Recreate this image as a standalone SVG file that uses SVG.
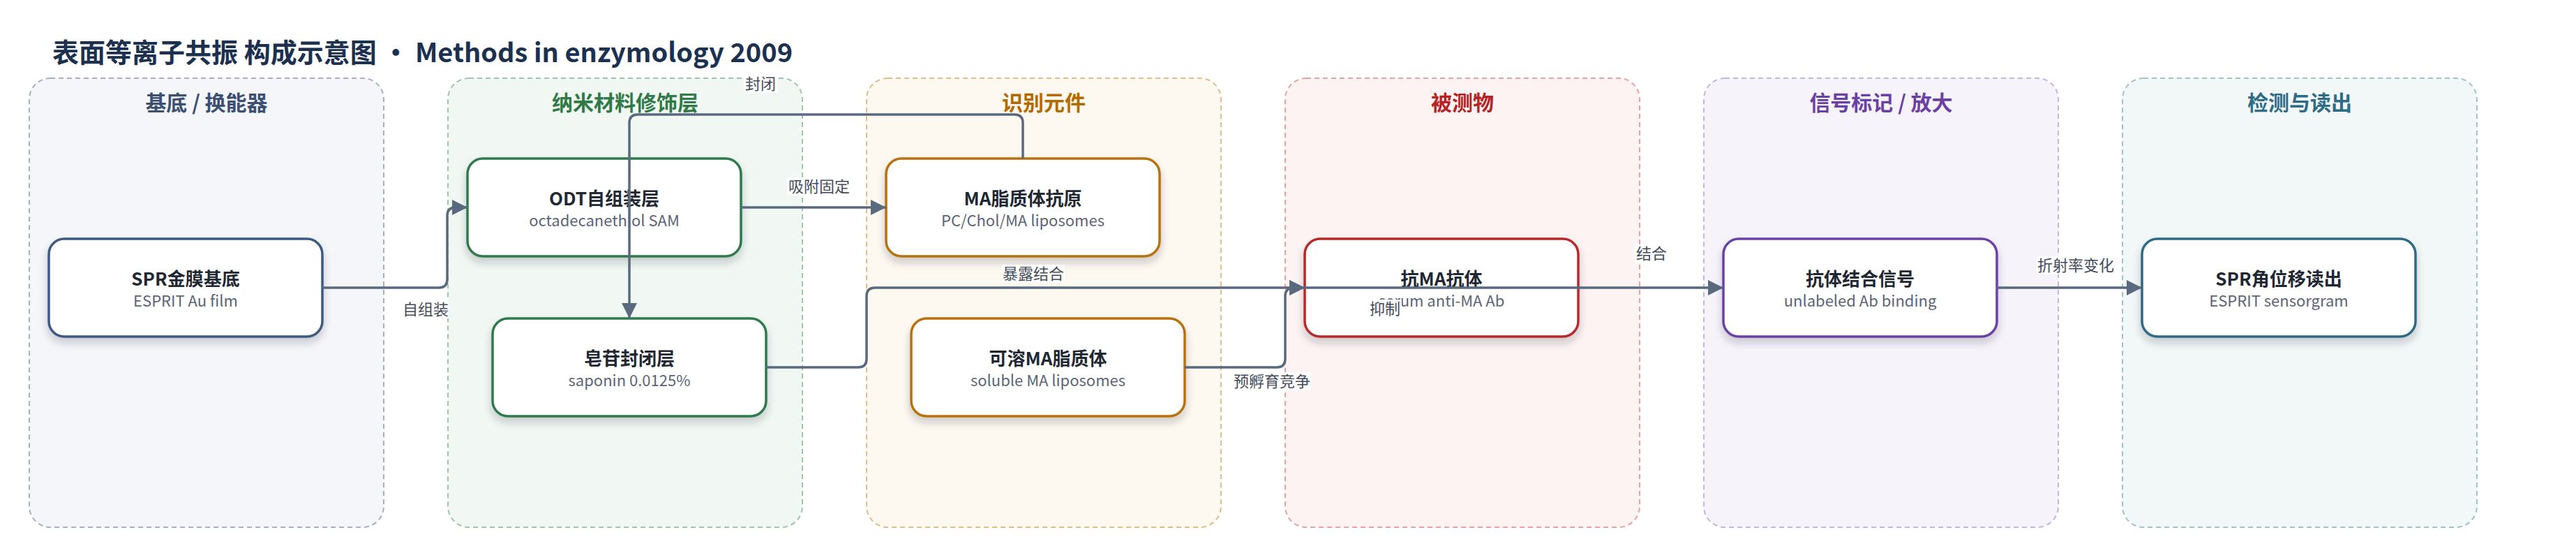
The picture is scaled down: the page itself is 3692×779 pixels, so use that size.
<svg xmlns="http://www.w3.org/2000/svg" width="3692" height="779" viewBox="0 0 3692 779">
<style>
text{font-family:"Noto Sans CJK SC","Noto Sans",sans-serif}
.gbox{stroke-width:2;stroke-dasharray:7 5}
.gt{font-size:30px;font-weight:700;text-anchor:middle}
.node{fill:#fff;stroke-width:3.5}
.nt{font-size:26px;font-weight:700;fill:#1f2733;text-anchor:middle}
.ns{font-size:22px;fill:#5b6577;text-anchor:middle}
.edge{fill:none;stroke:#5a6a7e;stroke-width:3.5}
.lb{fill:#fff;fill-opacity:0.92}
.lt{font-size:22px;fill:#434b5a;text-anchor:middle}
</style>
<defs>
<marker id="arr" markerUnits="userSpaceOnUse" markerWidth="22" markerHeight="22" refX="20" refY="10" orient="auto" viewBox="0 0 20 20">
<path d="M0,0 L20,10 L0,20 z" fill="#5a6a7e"/>
</marker>
<filter id="sh" x="-10%" y="-20%" width="120%" height="150%">
<feDropShadow dx="0" dy="7" stdDeviation="6" flood-color="#1f2a3a" flood-opacity="0.22"/>
</filter>
</defs>
<rect width="3692" height="779" fill="#fff"/>
<text x="75" y="89" font-size="38" font-weight="700" fill="#1c3150">表面等离子共振 构成示意图 · Methods in enzymology 2009</text>

<g id="group-substrate">
<rect class="gbox" x="42" y="112" width="508" height="643" rx="30" fill="#f5f6fa" stroke="#a3b0c8"/>
<text class="gt" x="296" y="158" fill="#3b5073">基底 / 换能器</text>
</g>
<g id="group-nano">
<rect class="gbox" x="642" y="112" width="508" height="643" rx="30" fill="#f1f8f3" stroke="#9cc7a9"/>
<text class="gt" x="896" y="158" fill="#2f7a47">纳米材料修饰层</text>
</g>
<g id="group-recog">
<rect class="gbox" x="1242" y="112" width="508" height="643" rx="30" fill="#fdf8f0" stroke="#e2bd85"/>
<text class="gt" x="1496" y="158" fill="#b36b00">识别元件</text>
</g>
<g id="group-analyte">
<rect class="gbox" x="1842" y="112" width="508" height="643" rx="30" fill="#fdf3f3" stroke="#e8a3a0"/>
<text class="gt" x="2096" y="158" fill="#b32424">被测物</text>
</g>
<g id="group-signal">
<rect class="gbox" x="2442" y="112" width="508" height="643" rx="30" fill="#f6f3fb" stroke="#c7b2e2"/>
<text class="gt" x="2696" y="158" fill="#6a40a5">信号标记 / 放大</text>
</g>
<g id="group-readout">
<rect class="gbox" x="3042" y="112" width="508" height="643" rx="30" fill="#f2f7f8" stroke="#9fc2cf"/>
<text class="gt" x="3296" y="158" fill="#2e6c86">检测与读出</text>
</g>

<g id="node-spr">
<rect class="node" x="70" y="342" width="392" height="140" rx="22" stroke="#3d5a82" filter="url(#sh)"/>
<text class="nt" x="266" y="409">SPR金膜基底</text>
<text class="ns" x="266" y="439">ESPRIT Au film</text>
</g>
<g id="node-odt">
<rect class="node" x="670" y="227" width="392" height="140" rx="22" stroke="#2f7a4c" filter="url(#sh)"/>
<text class="nt" x="866" y="294">ODT自组装层</text>
<text class="ns" x="866" y="324">octadecanethiol SAM</text>
</g>
<g id="node-saponin">
<rect class="node" x="706" y="456" width="392" height="140" rx="22" stroke="#2f7a4c" filter="url(#sh)"/>
<text class="nt" x="902" y="523">皂苷封闭层</text>
<text class="ns" x="902" y="553">saponin 0.0125%</text>
</g>
<g id="node-antigen">
<rect class="node" x="1270" y="227" width="392" height="140" rx="22" stroke="#b8720a" filter="url(#sh)"/>
<text class="nt" x="1466" y="294">MA脂质体抗原</text>
<text class="ns" x="1466" y="324">PC/Chol/MA liposomes</text>
</g>
<g id="node-soluble">
<rect class="node" x="1306" y="456" width="392" height="140" rx="22" stroke="#b8720a" filter="url(#sh)"/>
<text class="nt" x="1502" y="523">可溶MA脂质体</text>
<text class="ns" x="1502" y="553">soluble MA liposomes</text>
</g>
<g id="node-antibody">
<rect class="node" x="1870" y="342" width="392" height="140" rx="22" stroke="#b52a2a" filter="url(#sh)"/>
<text class="nt" x="2066" y="409">抗MA抗体</text>
<text class="ns" x="2066" y="439">serum anti-MA Ab</text>
</g>
<g id="node-signal">
<rect class="node" x="2470" y="342" width="392" height="140" rx="22" stroke="#6b42a3" filter="url(#sh)"/>
<text class="nt" x="2666" y="409">抗体结合信号</text>
<text class="ns" x="2666" y="439">unlabeled Ab binding</text>
</g>
<g id="node-readout">
<rect class="node" x="3070" y="342" width="392" height="140" rx="22" stroke="#2f6b84" filter="url(#sh)"/>
<text class="nt" x="3266" y="409">SPR角位移读出</text>
<text class="ns" x="3266" y="439">ESPRIT sensorgram</text>
</g>

<g id="connectors">
<path class="edge" marker-end="url(#arr)" d="M462,412 H629 Q641,412 641,400 V309 Q641,297 653,297 H670"/>
<path class="edge" marker-end="url(#arr)" d="M1062,297 H1270"/>
<path class="edge" marker-end="url(#arr)" d="M1466,227 V176 Q1466,164 1454,164 H914 Q902,164 902,176 V456"/>
<path class="edge" marker-end="url(#arr)" d="M1098,526 H1230 Q1242,526 1242,514 V424 Q1242,412 1254,412 H1870"/>
<path class="edge" marker-end="url(#arr)" d="M1698,526 H1830 Q1842,526 1842,514 V424 Q1842,412 1854,412 H1870"/>
<path class="edge" d="M1870,412 H2262"/>
<path class="edge" marker-end="url(#arr)" d="M2262,412 H2470"/>
<path class="edge" marker-end="url(#arr)" d="M2862,412 H3070"/>

<rect class="lb" x="577" y="430" width="66" height="26"/>
<text class="lt" x="610" y="451">自组装</text>
<rect class="lb" x="1128" y="254" width="92" height="26"/>
<text class="lt" x="1174" y="275">吸附固定</text>
<rect class="lb" x="1066" y="107" width="48" height="26"/>
<text class="lt" x="1090" y="128">封闭</text>
<rect class="lb" x="1436" y="379" width="90" height="26"/>
<text class="lt" x="1481" y="400">暴露结合</text>
<rect class="lb" x="1767" y="533" width="112" height="26"/>
<text class="lt" x="1823" y="554">预孵育竞争</text>
<rect class="lb" x="1961" y="429" width="48" height="26"/>
<text class="lt" x="1985" y="450">抑制</text>
<rect class="lb" x="2343" y="350" width="48" height="26"/>
<text class="lt" x="2367" y="371">结合</text>
<rect class="lb" x="2919" y="367" width="112" height="26"/>
<text class="lt" x="2975" y="388">折射率变化</text>
</g>
</svg>
